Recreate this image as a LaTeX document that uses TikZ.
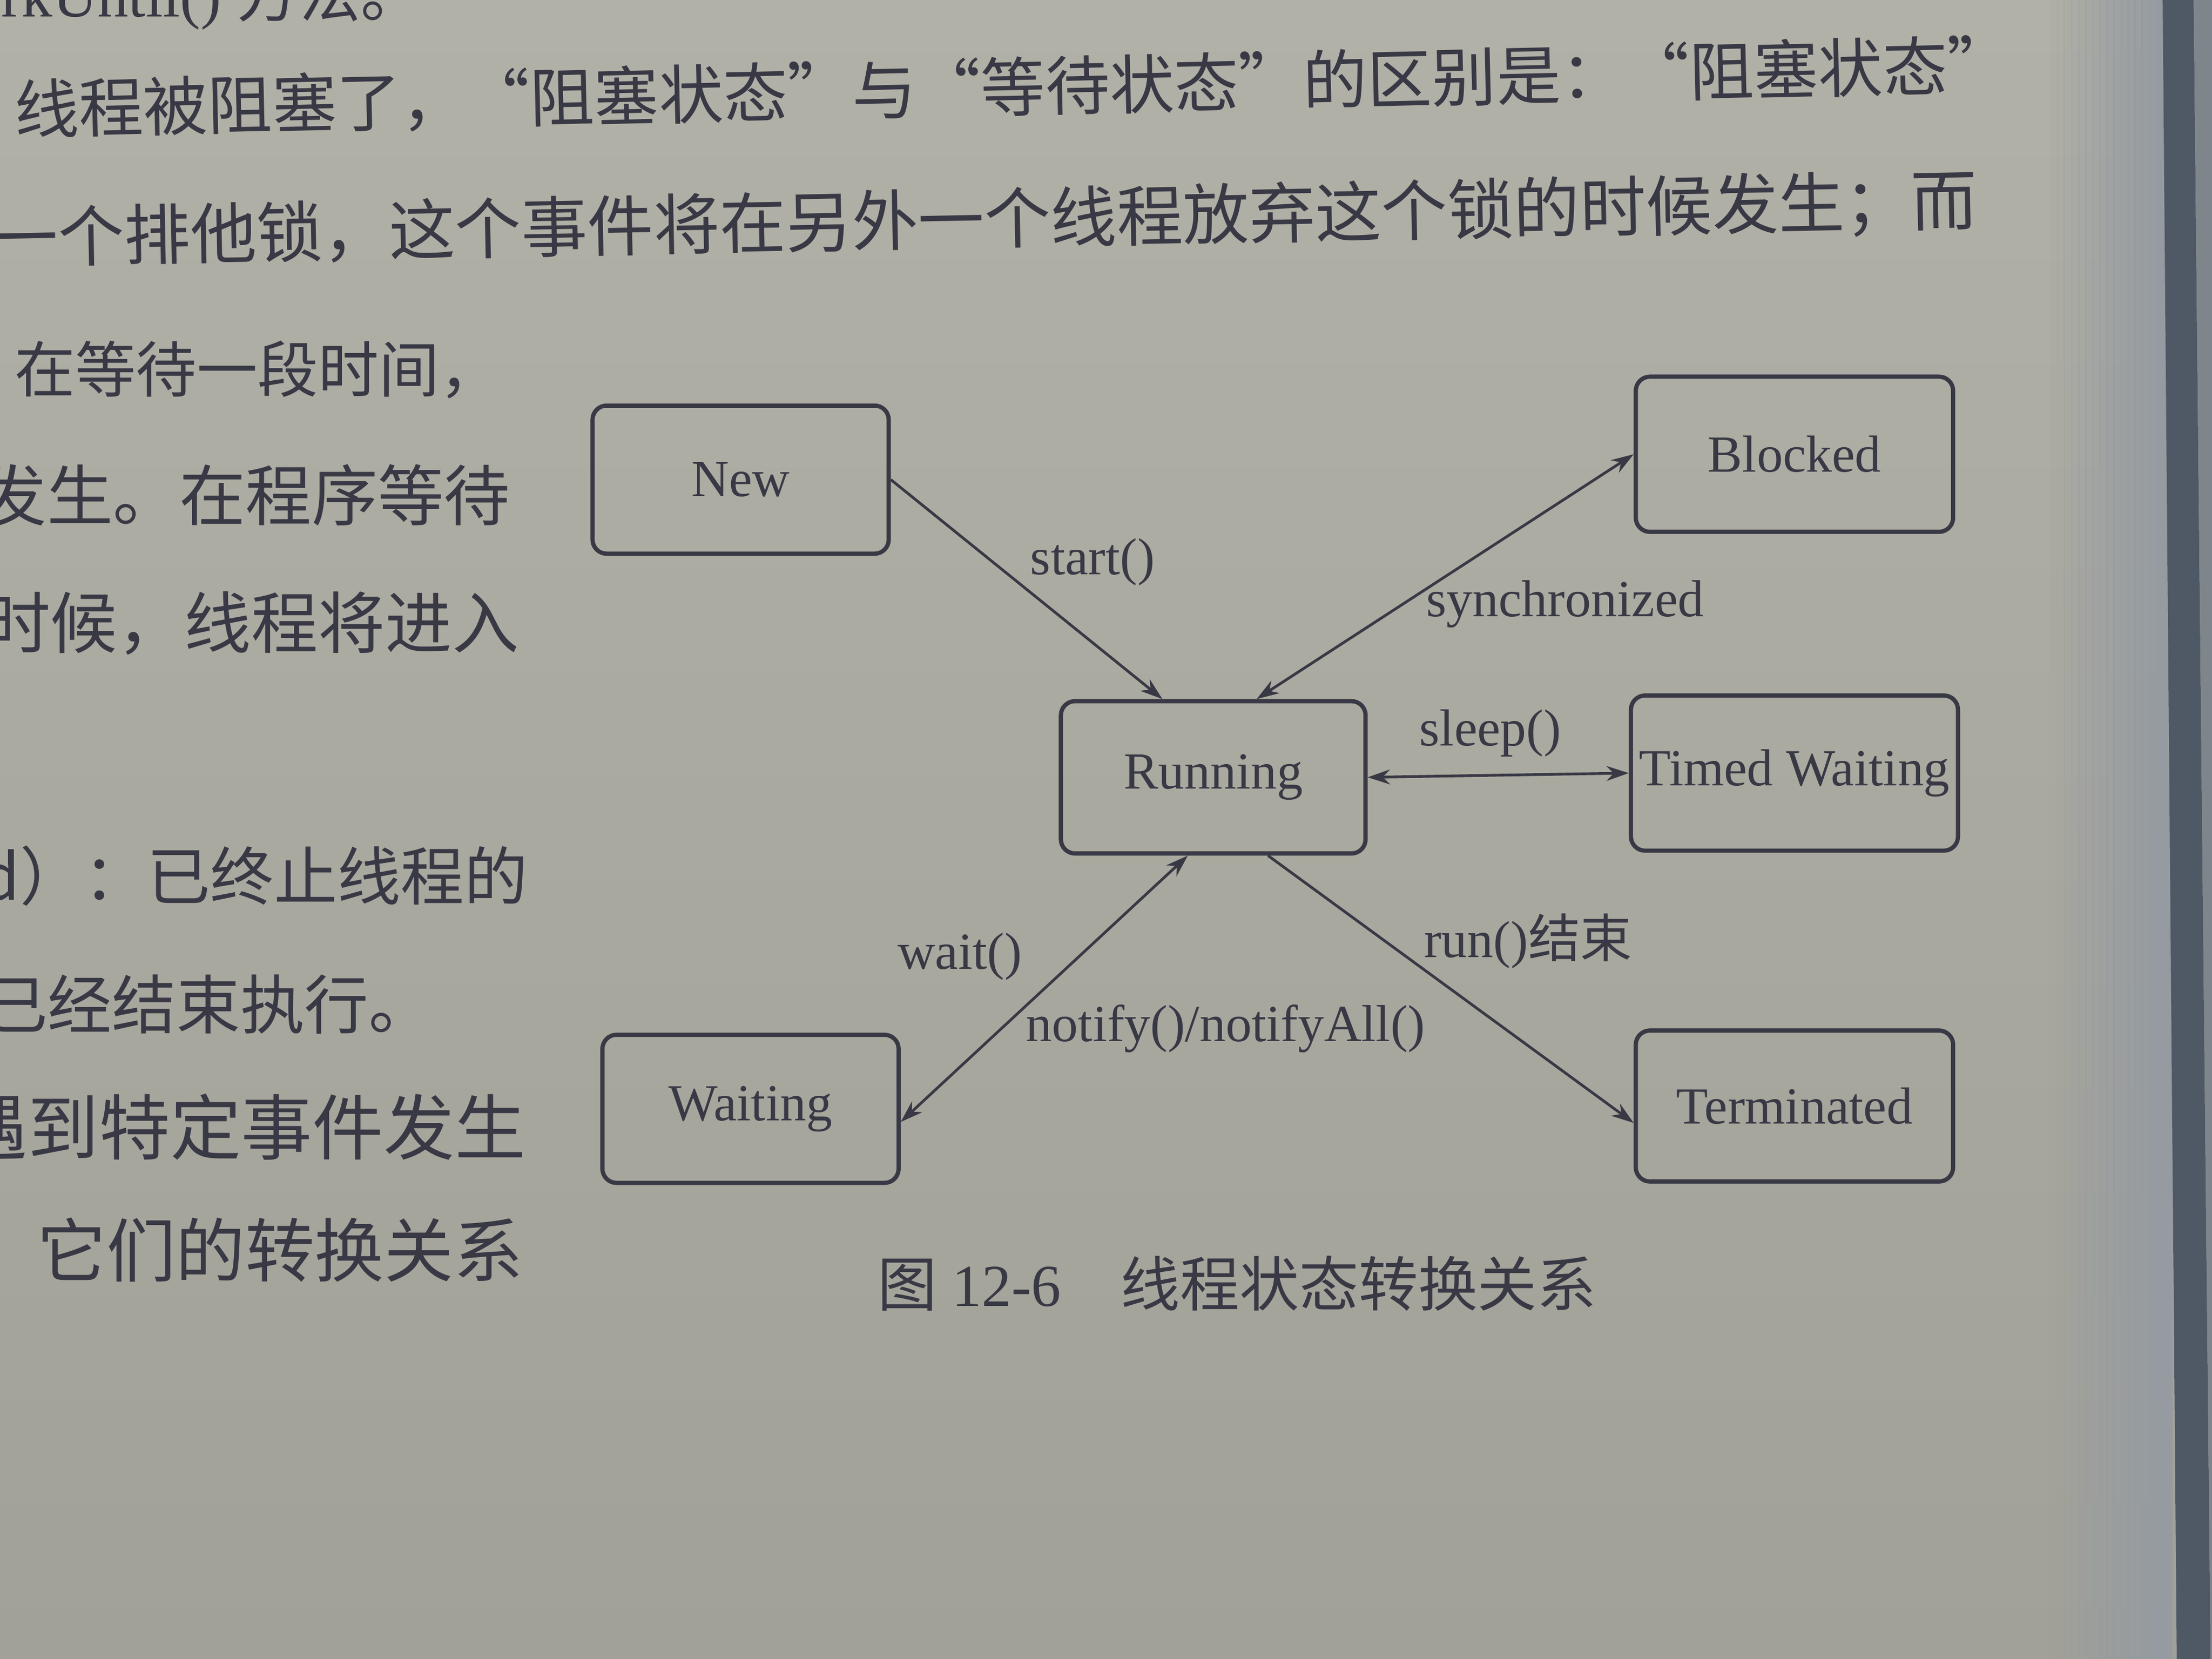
\documentclass[tikz,border=0pt]{standalone}
\usepackage{fontspec}
\setmainfont{Liberation Serif}
\newfontfamily\cjk{Noto Sans CJK SC}
\usetikzlibrary{arrows.meta}
\definecolor{papertop}{HTML}{B2B1A7}
\definecolor{paperbot}{HTML}{A2A198}
\definecolor{ink}{HTML}{393845}
\definecolor{spine}{HTML}{959BA0}
\definecolor{spinedark}{HTML}{4F5865}
\definecolor{spinegrey}{HTML}{7E868C}

\begin{document}
\begin{tikzpicture}[x=0.02cm, y=-0.02cm,
	state/.style={draw=ink, line width=1.7pt, rounded corners=0.2cm, minimum width=4.2cm, minimum height=2.1cm, text=ink, font=\fontsize{21}{25}\selectfont},
	wide/.style={minimum width=4.5cm, minimum height=2.2cm},
	tip/.tip={Stealth[length=9pt,width=6pt]},
	trans/.style={draw=ink, line width=1.1pt, -tip},
	both/.style={draw=ink, line width=1.1pt, tip-tip},
	lbl/.style={text=ink, inner sep=1pt, font=\fontsize{21}{25}\selectfont},
	body/.style={text=ink, inner sep=0pt, anchor=west}]
	\useasboundingbox (0,0) rectangle (1568,1176);
	\shade [top color=papertop, bottom color=paperbot] (0,0) rectangle (1568,1176);
	\foreach \i in {1,...,16}
		\fill [spine, opacity=\i/16] (1448+5*\i,0) rectangle (1454+5*\i,1176);
	\fill [spine] (1532,0) rectangle (1540,1176);
	\fill [spinedark] (1533,0) -- (1555,0) -- (1567,1176) -- (1543,1176) -- cycle;
	\fill [spinegrey] (1555,0) -- (1568,0) -- (1568,1176) -- (1567,1176) -- cycle;

	\node [body, anchor=base west, font=\fontsize{25}{30}\selectfont] (l0) at (-41,12) {parkUntil() {\cjk 方法。}};
	\node [body, rotate=1.3, font=\cjk\fontsize{26}{30}\selectfont] (l1) at (10,78) {线程被阻塞了，“阻塞状态”与“等待状态”的区别是：“阻塞状态”};
	\node [body, rotate=1.1, font=\cjk\fontsize{26.7}{30}\selectfont] (l2) at (-6,170) {一个排他锁，这个事件将在另外一个线程放弃这个锁的时候发生；而};
	\node [body, font=\cjk\fontsize{24.5}{30}\selectfont] (l3) at (10,262) {在等待一段时间，};
	\node [body, font=\cjk\fontsize{26.7}{30}\selectfont] (l4) at (-14,351) {发生。在程序等待};
	\node [body, font=\cjk\fontsize{27}{30}\selectfont] (l5) at (-12,442) {时候，线程将进入};
	\node [body, font=\cjk\fontsize{25.6}{30}\selectfont] (l6) at (-14,621) {d）：已终止线程的};
	\node [body, font=\cjk\fontsize{25.9}{30}\selectfont] (l7) at (-12,712) {已经结束执行。};
	\node [body, font=\cjk\fontsize{28.7}{30}\selectfont] (l8) at (-31,799) {遇到特定事件发生};
	\node [body, font=\cjk\fontsize{28}{30}\selectfont] (l9) at (26,886) {它们的转换关系};

	\node [state] (new) at (525,340) {New};
	\node [state, wide] (blk) at (1272,322) {Blocked};
	\node [state, minimum width=4.32cm, minimum height=2.16cm] (run) at (860,551) {Running};
	\node [state, wide] (tw) at (1272,548) {Timed Waiting};
	\node [state] (wait) at (532,786) {Waiting};
	\node [state, wide, minimum height=2.14cm] (term) at (1272,784) {Terminated};

	\draw [trans] (new.east) -- (run.123) node [lbl, pos=.5, anchor=south west] (start) {start()};
	\draw [both] (run.61) -- (blk.west) node [lbl, pos=.44, anchor=north west, yshift=6pt] (sync) {synchronized};
	\draw [both] (run.east) -- (tw.west) node [lbl, pos=.47, above=6pt] (sleep) {sleep()};
	\draw [both] (run.252) -- (wait.355) node [lbl, pos=.38, left=0.75cm] (wt) {wait()} node [lbl, pos=.65, right=0.3cm] (ntf) {notify()/notifyAll()};
	\draw [trans] (run.305) -- (term.186) node [lbl, pos=.32, right=0.5cm] (end) {run(){\cjk 结束}};

	\node [text=ink, font=\fontsize{24}{28}\selectfont] (cap) at (877,910) {{\cjk 图} 12-6\hspace{1em}{\cjk 线程状态转换关系}};
\end{tikzpicture}
\end{document}
